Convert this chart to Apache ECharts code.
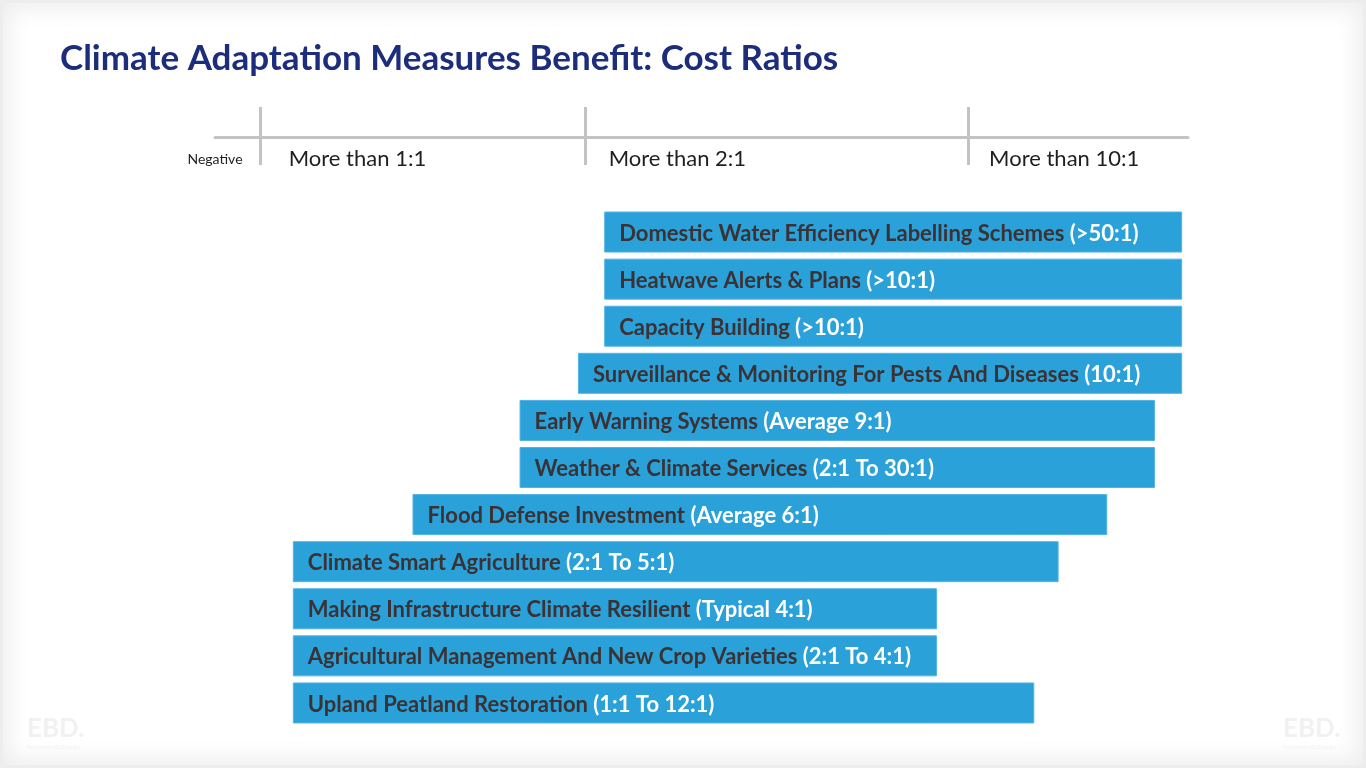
<!DOCTYPE html>
<html>
<head>
<meta charset="utf-8">
<script src="https://cdn.jsdelivr.net/npm/echarts@6/dist/echarts.min.js"></script>
<style>
  html, body { margin: 0; padding: 0; width: 1366px; height: 768px; overflow: hidden; background: #ededed; }
  #frame { position: absolute; left: 3px; top: 3px; width: 1360px; height: 762px; background: #ffffff;
           box-shadow: inset 0 0 22px 6px rgba(0,0,0,0.07); border-radius: 4px; }
  #chart { position: absolute; left: 0; top: 0; width: 1366px; height: 768px; }
</style>
</head>
<body>
<div id="frame"></div>
<div id="chart"></div>
<script>
// ---- Data (positions on the slide's benefit:cost scale, 0-100 units) ----
const categories = [
  'Domestic Water Efficiency Labelling Schemes',
  'Heatwave Alerts & Plans',
  'Capacity Building',
  'Surveillance & Monitoring For Pests And Diseases',
  'Early Warning Systems',
  'Weather & Climate Services',
  'Flood Defense Investment',
  'Climate Smart Agriculture',
  'Making Infrastructure Climate Resilient',
  'Agricultural Management And New Crop Varieties',
  'Upland Peatland Restoration'
];
const ratios = [
  '(>50:1)', '(>10:1)', '(>10:1)', '(10:1)', '(Average 9:1)', '(2:1 To 30:1)',
  '(Average 6:1)', '(2:1 To 5:1)', '(Typical 4:1)', '(2:1 To 4:1)', '(1:1 To 12:1)'
];
const startPos = [40.0, 40.0, 40.0, 37.3, 31.3, 31.3, 20.3, 8.0, 8.0, 8.0, 8.0];
const endPos   = [99.4, 99.4, 99.4, 99.4, 96.6, 96.6, 91.7, 86.7, 74.2, 74.2, 84.2];

const scaleTickValues = [4.6, 38.1, 77.4];
const scaleTickLabels = ['More than 1:1', 'More than 2:1', 'More than 10:1'];
const negativeValue = [0];
const negativeLabel = 'Negative';

const lengths = endPos.map((e, i) => +(e - startPos[i]).toFixed(2));

const chart = echarts.init(document.getElementById('chart'), null, { renderer: 'canvas' });
const axisGray = '#c3c3c3';
const font = 'Lato, "Open Sans", sans-serif';
const tickLabelStyle = (padLeft) => ({ fontFamily: font, fontSize: 22, color: '#1f1f1f', padding: [0, 0, 0, padLeft] });

const baseX = {
  type: 'value', min: 0, max: 100, position: 'top', offset: 71.5,
  splitLine: { show: false }
};

chart.setOption({
  animation: false,
  backgroundColor: 'transparent',
  title: {
    text: 'Climate Adaptation Measures Benefit: Cost Ratios',
    left: 55, top: 36,
    textStyle: { fontFamily: font, fontWeight: 'bold', fontSize: 35, color: '#1c2e7b' }
  },
  grid: { left: 215, right: 178, top: 208.5, bottom: 41.5, containLabel: false },
  xAxis: [
    Object.assign({}, baseX, {
      axisLine: { show: true, lineStyle: { color: axisGray, width: 3 } },
      axisTick: { show: true, inside: false, length: 30, customValues: scaleTickValues,
                  lineStyle: { color: axisGray, width: 3 } },
      axisLabel: { show: false }
    }),
    Object.assign({}, baseX, {
      axisLine: { show: false },
      axisTick: { show: true, inside: true, length: 28, customValues: scaleTickValues,
                  lineStyle: { color: axisGray, width: 3 } },
      axisLabel: {
        show: true, inside: true, customValues: scaleTickValues,
        formatter: v => {
          const i = scaleTickValues.indexOf(v);
          return i < 0 ? '' : '{t' + i + '|' + scaleTickLabels[i] + '}';
        },
        align: 'left', verticalAlign: 'middle', margin: 22,
        rich: { t0: tickLabelStyle(29), t1: tickLabelStyle(23), t2: tickLabelStyle(21) }
      }
    }),
    Object.assign({}, baseX, {
      axisLine: { show: false },
      axisTick: { show: false },
      axisLabel: {
        show: true, inside: true, customValues: negativeValue,
        formatter: () => negativeLabel,
        align: 'center', verticalAlign: 'middle', margin: 22,
        fontFamily: font, fontSize: 14, color: '#1f1f1f'
      }
    })
  ],
  yAxis: {
    type: 'category', data: categories, inverse: true, show: false
  },
  graphic: [
    { type: 'text', left: 27, top: 716, style: { text: 'EBD.', font: 'bold 26px ' + font, fill: '#f1f1f1' } },
    { type: 'text', left: 27, top: 744, style: { text: 'EconomicsByDesign', font: '6px ' + font, fill: '#f1f1f1' } },
    { type: 'text', left: 1283, top: 716, style: { text: 'EBD.', font: 'bold 26px ' + font, fill: '#f1f1f1' } },
    { type: 'text', left: 1283, top: 744, style: { text: 'EconomicsByDesign', font: '6px ' + font, fill: '#f1f1f1' } }
  ],
  series: [
    {
      type: 'bar', stack: 'range', data: startPos, silent: true,
      itemStyle: { color: 'transparent' }, barWidth: 41
    },
    {
      type: 'bar', stack: 'range', data: lengths, barWidth: 41,
      itemStyle: { color: '#2aa1d8', borderColor: '#52b3e2', borderWidth: 1 },
      label: {
        show: true, position: 'insideLeft', distance: 15, offset: [0, 1.5],
        formatter: p => '{n|' + categories[p.dataIndex] + '}{r|\u00a0' + ratios[p.dataIndex] + '}',
        rich: {
          n: { fontFamily: font, fontWeight: 'bold', fontSize: 22, color: '#3a3234' },
          r: { fontFamily: font, fontWeight: 'bold', fontSize: 22, color: '#ffffff' }
        }
      }
    }
  ]
});
</script>
</body>
</html>
